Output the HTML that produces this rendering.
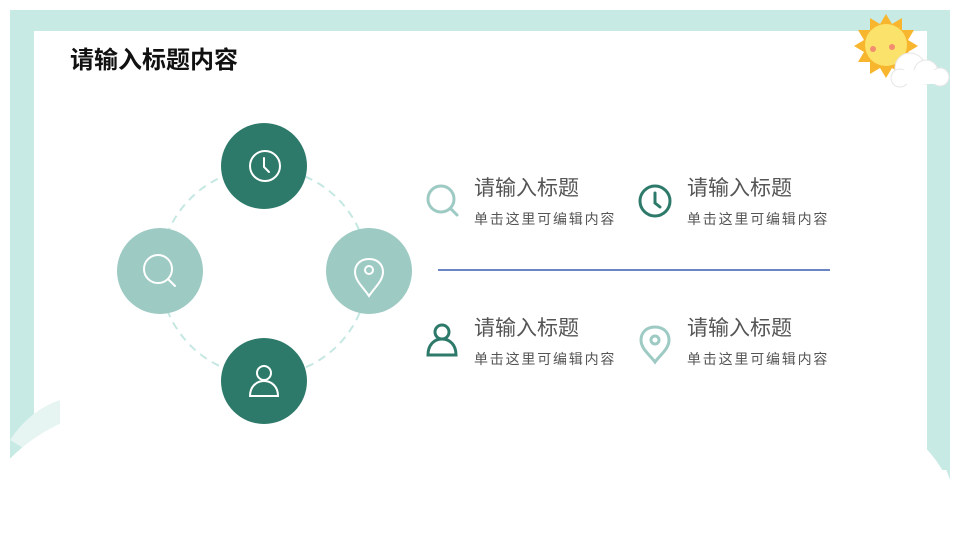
<!DOCTYPE html>
<html><head><meta charset="utf-8"><style>
html,body{margin:0;padding:0;background:#fff;}
svg{display:block;}
text{font-family:"Liberation Sans","Noto Sans CJK SC",sans-serif;}
</style></head><body>
<svg width="960" height="548" viewBox="0 0 960 548" xmlns="http://www.w3.org/2000/svg">
<rect x="10" y="10" width="940" height="540" fill="#c7eae4"/>
<rect x="34" y="31" width="893" height="520" fill="#fff"/>
<path d="M10 440 Q30 410 60 400 L60 470 Z" fill="#e6f5f2"/>
<path d="M0 470 Q40 420 120 405 L850 405 Q935 430 955 500 L960 548 L0 548 Z" fill="#fff"/>
<rect x="0" y="470" width="960" height="78" fill="#fff"/>
<path d="M927 420 L950 420 L950 480 Q940 450 927 440 Z" fill="#c7eae4"/>
<text x="70" y="68" font-size="24" font-weight="bold" fill="#111">请输入标题内容</text>
<g>
<polygon points="886,14 892,24 902,18 902,30 914,30 908,40 918,46 908,52 914,62 902,62 902,74 892,68 886,78 880,68 870,74 870,62 858,62 864,52 854,46 864,40 858,30 870,30 870,18 880,24" fill="#f8b62e"/>
<circle cx="886" cy="45" r="21" fill="#fbe26a"/>
<circle cx="873" cy="49" r="3" fill="#f38d6f"/>
<circle cx="892" cy="47" r="3" fill="#f38d6f"/>
<g fill="#fff" stroke="#e6e6e6">
<circle cx="910" cy="68" r="15"/>
<circle cx="926" cy="72" r="12"/>
<circle cx="940" cy="77" r="9"/>
<circle cx="900" cy="78" r="9"/>
</g>
<rect x="898" y="70" width="44" height="14" fill="#fff"/>
</g>
<circle cx="264" cy="272" r="104" fill="none" stroke="#c5e8e2" stroke-width="2" stroke-dasharray="8 6"/>
<circle cx="264" cy="166" r="43" fill="#2e7a6a"/>
<circle cx="160" cy="271" r="43" fill="#9ecac4"/>
<circle cx="369" cy="271" r="43" fill="#9ecac4"/>
<circle cx="264" cy="381" r="43" fill="#2e7a6a"/>
<g fill="none" stroke="#fff" stroke-width="2" stroke-linecap="round">
<circle cx="265" cy="166" r="15"/><path d="M264 158 V167 L269 172"/>
<circle cx="158" cy="269" r="14"/><path d="M168 279 L175 286"/>
<path d="M369 259 c-9 0 -14 6 -14 13 c0 9 9 16 14 24 c5 -8 14 -15 14 -24 c0 -7 -5 -13 -14 -13z"/><circle cx="369" cy="270" r="4"/>
<circle cx="264" cy="373" r="7"/><path d="M250 396 c0 -9 6 -15 14 -15 c8 0 14 6 14 15 z"/>
</g>
<g fill="none" stroke-width="3" stroke-linecap="round">
<circle cx="441" cy="199" r="13" stroke="#9ecac4"/><path d="M451 209 L457 215" stroke="#9ecac4"/>
<circle cx="655" cy="201" r="15" stroke="#2e7a6a"/><path d="M655 193 V203 L660 207" stroke="#2e7a6a"/>
<circle cx="442" cy="332" r="7" stroke="#2e7a6a"/><path d="M428 355 c0 -10 6 -16 14 -16 c8 0 14 6 14 16 z" stroke="#2e7a6a"/>
<path d="M655 327 c-9 0 -14 6 -14 13 c0 9 9 15 14 22 c5 -7 14 -13 14 -22 c0 -7 -5 -13 -14 -13z" stroke="#9ecac4"/><circle cx="655" cy="340" r="4" stroke="#9ecac4"/>
</g>
<line x1="438" y1="270" x2="830" y2="270" stroke="#6a84c4" stroke-width="2"/>
<g fill="#555">
<text x="474" y="195" font-size="21">请输入标题</text>
<text x="687" y="195" font-size="21">请输入标题</text>
<text x="474" y="335" font-size="21">请输入标题</text>
<text x="687" y="335" font-size="21">请输入标题</text>
<g font-size="14" letter-spacing="1.8">
<text x="474" y="224">单击这里可编辑内容</text>
<text x="687" y="224">单击这里可编辑内容</text>
<text x="474" y="364">单击这里可编辑内容</text>
<text x="687" y="364">单击这里可编辑内容</text>
</g>
</g>
</svg>
</body></html>
